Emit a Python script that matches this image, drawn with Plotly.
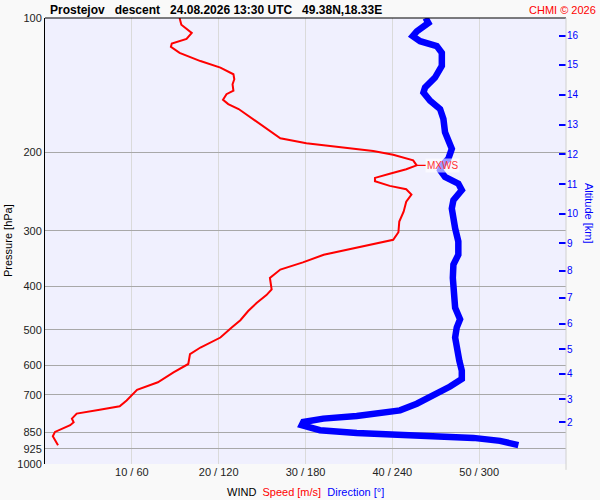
import math
import plotly.graph_objects as go

# ---------------- data ----------------
speed_p = [100.0, 103.5, 108.0, 111.4, 114.1, 116.0, 119.7, 124.9, 129.2, 133.7,
           137.2, 140.8, 145.6, 148.2, 152.5, 156.0, 160.0, 168.5, 178.8, 186.0,
           190.8, 194.8, 198.8, 202.6, 208.5, 214.0, 218.4, 223.4, 228.3, 232.2,
           237.9, 242.0, 248.8, 258.2, 271.8, 286.1, 302.2, 314.3, 321.4, 330.8,
           339.4, 353.1, 366.5, 382.7, 406.1, 418.2, 435.0, 453.9, 476.1, 494.4,
           520.5, 548.0, 566.8, 596.7, 622.9, 655.7, 681.8, 720.1, 742.6, 755.3,
           771.0, 791.1, 806.0, 818.7, 847.3, 866.2, 907.3]
speed_v = [15.5, 15.7, 16.9, 16.3, 14.6, 14.5, 15.5, 17.9, 20.2, 21.7,
           21.8, 21.6, 21.7, 20.9, 20.5, 21.1, 22.3, 24.0, 25.9, 27.1,
           30.1, 34.0, 37.8, 40.1, 42.4, 42.8, 41.6, 39.7, 38.0, 38.0,
           39.7, 41.6, 42.2, 41.6, 41.3, 40.8, 40.7, 40.1, 37.8, 34.7,
           32.1, 29.7, 27.1, 25.9, 26.1, 25.5, 24.4, 23.4, 22.5, 21.5,
           20.2, 17.9, 16.7, 16.5, 14.8, 13.0, 10.6, 9.4, 8.6, 6.3,
           3.65, 3.1, 3.3, 2.9, 1.15, 0.9, 1.5]

dir_p = [100.0, 102.6, 107.1, 109.8, 112.7, 115.6, 119.7, 128.1, 136.0, 143.2,
         146.9, 153.3, 160.0, 168.5, 180.3, 188.2, 196.5, 206.8, 214.0, 219.5,
         227.2, 235.1, 243.2, 256.0, 267.3, 296.1, 317.0, 339.4, 357.3, 382.7,
         416.7, 446.3, 473.7, 494.4, 520.5, 552.5, 586.7, 617.5, 644.4, 670.3,
         702.0, 732.4, 758.1, 780.6, 791.1, 805.2, 818.7, 840.0, 851.7, 858.7,
         866.2, 873.9, 887.4, 907.3]
dir_d = [263.0, 264.9, 256.9, 254.1, 259.2, 270.7, 274.2, 274.2, 269.5, 262.6,
         261.5, 266.1, 273.0, 275.3, 276.4, 278.7, 281.1, 278.7, 274.2, 273.0,
         276.4, 285.6, 288.0, 282.2, 281.1, 283.4, 285.6, 285.6, 282.2, 281.8,
         282.2, 283.4, 286.8, 284.5, 283.4, 284.5, 286.3, 288.0, 288.0, 279.9,
         268.3, 256.9, 245.3, 215.4, 192.3, 178.5, 177.4, 190.0, 215.4, 238.4,
         273.0, 296.0, 314.4, 327.1]

pressure_ticks = [100, 200, 300, 400, 500, 600, 700, 850, 925, 1000]
speed_ticks = [10, 20, 30, 40, 50]
dir_ticks = [60, 120, 180, 240, 300]
alt_km = [2, 3, 4, 5, 6, 7, 8, 9, 10, 11, 12, 13, 14, 15, 16]
alt_p = [806.3, 715.1, 628.1, 552.5, 485.3, 424.1, 368.5, 320.3, 275.0, 235.9,
         202.2, 173.4, 148.6, 127.4, 109.5]

title_text = "Prostejov\u00a0\u00a0 descent\u00a0\u00a0 24.08.2026 13:30 UTC\u00a0\u00a0 49.38N,18.33E"

# ---------------- figure ----------------
FONT = "Arial, 'Liberation Sans', sans-serif"
fig = go.Figure()

fig.add_trace(go.Scatter(x=speed_v, y=speed_p, mode="lines",
                         line=dict(color="#ff0000", width=2), xaxis="x", yaxis="y",
                         showlegend=False, hoverinfo="skip"))
fig.add_trace(go.Scatter(x=dir_d, y=dir_p, mode="lines",
                         line=dict(color="#0000ff", width=6.5), xaxis="x2", yaxis="y",
                         showlegend=False, hoverinfo="skip"))
# invisible trace to activate altitude axis
fig.add_trace(go.Scatter(x=[None], y=[None], xaxis="x", yaxis="y2",
                         showlegend=False, hoverinfo="skip"))

imax = max(range(len(speed_v)), key=lambda i: speed_v[i])
vmax, pmax = speed_v[imax], speed_p[imax]
lpmax = math.log10(pmax)

fig.update_layout(
    width=600, height=500,
    margin=dict(l=45, r=34, t=15, b=36),
    paper_bgcolor="#f9f9f9",
    plot_bgcolor="#f0f0fe",
    font=dict(family=FONT, size=11, color="#000000"),
    xaxis=dict(range=[0, 60], tickvals=speed_ticks,
               ticktext=[f"{s} / {d}" for s, d in zip(speed_ticks, dir_ticks)],
               showgrid=True, gridcolor="#dadada", gridwidth=1,
               zeroline=False, showline=False, ticks="", ticklen=0,
               tickfont=dict(size=11, color="#222222")),
    xaxis2=dict(range=[0, 360], overlaying="x", visible=False),
    yaxis=dict(type="log", range=[3, 2], tickvals=pressure_ticks,
               ticktext=[str(p) for p in pressure_ticks],
               showgrid=True, gridcolor="#a8a8a8", gridwidth=1,
               zeroline=False, showline=True, linecolor="#000000", linewidth=1,
               ticks="", tickfont=dict(size=11, color="#222222")),
    yaxis2=dict(type="log", range=[3, 2], overlaying="y", side="right",
                anchor="free", position=1.0,
                tickvals=alt_p, ticktext=[str(a) for a in alt_km],
                showgrid=False, zeroline=False, showline=False,
                ticks="inside", ticklen=7, tickwidth=1.5, tickcolor="#0000ff",
                tickfont=dict(size=10, color="#0000ff")),
)

shapes = [
    # top border
    dict(type="line", xref="paper", yref="paper", x0=0, x1=1, y0=1, y1=1,
         line=dict(color="#000000", width=1.2)),
    # right border
    dict(type="line", xref="paper", yref="paper", x0=1, x1=1, y0=-0.013, y1=1,
         line=dict(color="#d0d0d0", width=1)),
    # MXWS marks on both sides
    dict(type="line", xref="paper", yref="y", x0=-0.004, x1=0.021, y0=lpmax, y1=lpmax,
         line=dict(color="#ff0000", width=1)),
    dict(type="line", xref="paper", yref="y", x0=0.979, x1=0.996, y0=lpmax, y1=lpmax,
         line=dict(color="#ff0000", width=1)),
]
fig.update_layout(shapes=shapes)

annotations = [
    dict(text=f"<b>{title_text}</b>", xref="paper", yref="paper", x=0, y=1,
         xanchor="left", yanchor="middle", xshift=3, yshift=8, showarrow=False,
         font=dict(size=12, color="#000000")),
    dict(text="CHMI © 2026", xref="paper", yref="paper", x=1, y=1,
         xanchor="right", yanchor="middle", xshift=32, yshift=8, showarrow=False,
         font=dict(size=11, color="#ff0000")),
    dict(text="Pressure [hPa]", xref="paper", yref="paper", x=0, y=0.5,
         xanchor="center", yanchor="middle", xshift=-37, textangle=-90,
         showarrow=False, font=dict(size=11, color="#000000")),
    dict(text="Altitude [km]", xref="paper", yref="paper", x=1, y=0.5,
         xanchor="center", yanchor="middle", xshift=23, yshift=28, textangle=90,
         showarrow=False, font=dict(size=11, color="#0000ff")),
    dict(text="WIND\u00a0\u00a0<span style='color:#ff0000'>Speed [m/s]</span>\u00a0\u00a0"
              "<span style='color:#0000ff'>Direction [°]</span>",
         xref="paper", yref="paper", x=0.5, y=0, xanchor="center", yanchor="middle",
         yshift=-28, showarrow=False, font=dict(size=11, color="#000000")),
    dict(text="MXWS", xref="x", yref="y", x=vmax, y=lpmax, showarrow=True,
         ax=26, ay=0, arrowhead=0, arrowwidth=1.2, arrowcolor="#ff0000",
         bgcolor="rgba(255,255,255,0.6)", borderpad=1,
         font=dict(size=10, color="#ff3333")),
]
fig.update_layout(annotations=annotations)

fig.write_html("out.html", config={"displayModeBar": False},
               post_script="document.body.style.margin='0';document.body.style.overflow='hidden';")
